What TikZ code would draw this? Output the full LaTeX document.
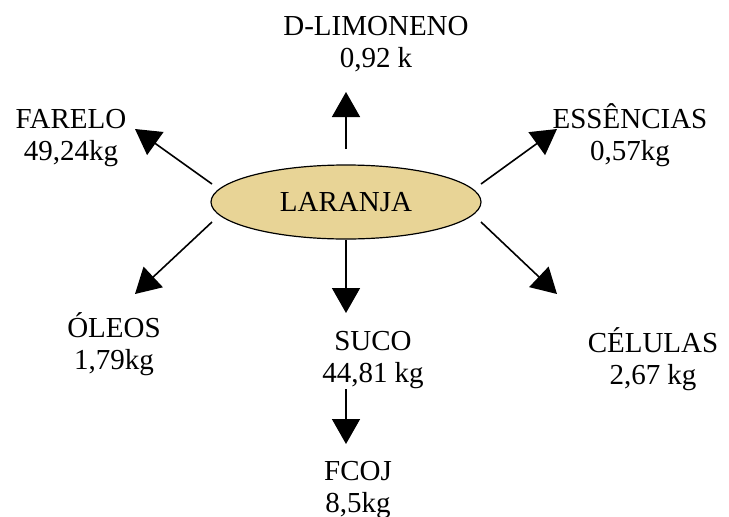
\documentclass[tikz,border=0pt]{standalone}
\usepackage{fontspec}
\setmainfont{Liberation Serif}
\usetikzlibrary{arrows.meta,shapes.geometric}
\definecolor{orangefill}{RGB}{232,212,150}
\begin{document}
\begin{tikzpicture}[x=1pt,y=-1pt,
  lbl/.style={align=center,anchor=base,inner sep=0pt,font=\fontsize{29}{32}\selectfont},
  flow/.style={line width=1.6pt,-{Triangle[length=25pt,width=28pt]}}]
\useasboundingbox (0,0) rectangle (729,517);
\node[ellipse,draw,line width=1.2pt,fill=orangefill,minimum width=270pt,minimum height=74pt,inner sep=0pt,
  font=\fontsize{29}{32}\selectfont] (laranja) at (346,202) {LARANJA};
\node[lbl] (limo) at (376,67) {D-LIMONENO\\0,92 k};
\node[lbl] (farelo) at (71,160) {FARELO\\49,24kg};
\node[lbl] (ess) at (630,160) {ESSÊNCIAS\\0,57kg};
\node[lbl] (oleos) at (114,369) {ÓLEOS\\1,79kg};
\node[lbl] (suco) at (373,382) {SUCO\\44,81 kg};
\node[lbl] (cel) at (653,384) {CÉLULAS\\2,67 kg};
\node[lbl] (fcoj) at (358,512) {FCOJ\\8,5kg};
\coordinate (tUp) at (346,149);
\coordinate (hUp) at (346,92);
\coordinate (tFa) at (212,184);
\coordinate (hFa) at (135,129);
\coordinate (tEs) at (481,184);
\coordinate (hEs) at (557,129);
\coordinate (tOl) at (212,222);
\coordinate (hOl) at (135,294);
\coordinate (tCe) at (481,222);
\coordinate (hCe) at (557,294);
\coordinate (tSu) at (346,240);
\coordinate (hSu) at (346,313);
\coordinate (tFc) at (346,389);
\coordinate (hFc) at (346,444);
\draw[flow] (tUp) -- (hUp);
\draw[flow] (tFa) -- (hFa);
\draw[flow] (tEs) -- (hEs);
\draw[flow] (tOl) -- (hOl);
\draw[flow] (tCe) -- (hCe);
\draw[flow] (tSu) -- (hSu);
\draw[flow] (tFc) -- (hFc);
\end{tikzpicture}
\end{document}
